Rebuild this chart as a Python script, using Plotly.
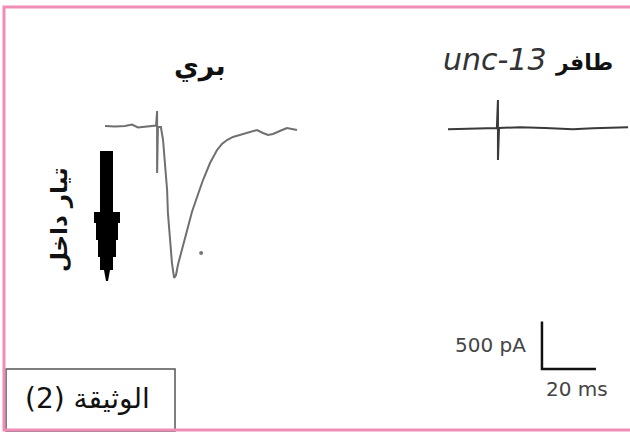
import plotly.graph_objects as go

W, H = 630, 432

# Wild-type evoked current (time in ms, current in pA)
wt_time = [0, 3.7, 7.4, 10.0, 12.2, 14.8, 17.8, 18.9, 19.3, 19.3, 19.6, 20.7, 21.5, 22.2,
           23.0, 23.3, 24.1, 24.8, 25.6, 26.3, 27.0, 28.5, 30.4, 32.2, 34.1, 36.3, 38.9,
           41.5, 43.3, 45.2, 47.4, 50.0, 51.9, 53.7, 56.3, 58.5, 60.4, 62.2, 63.7, 65.6,
           67.4, 69.3, 71.1]
wt_current = [10, 5, 10, 26, -5, 5, 16, 16, 168, -484, 0, 0, -137, -379,
              -663, -905, -1189, -1432, -1589, -1558, -1453, -1295, -1084, -895, -737, -558, -379,
              -242, -179, -137, -105, -84, -68, -53, -32, -63, -84, -74, -53, -32,
              -11, -21, -32]

# unc-13 mutant current (time in ms, current in pA)
mut_time = [0, 8.1, 14.4, 18.1, 18.5, 18.5, 18.9, 26.7, 35.9, 46.3, 53.7, 66.7]
mut_current = [-24, -16, -7, -10, 284, -347, -10, -3, -10, -24, -14, -3]

# stray dot in the wild-type panel
dot_time = [35.6]
dot_current = [-1326]

# scale bar (20 ms x 500 pA)
bar_time = [34.8, 34.8, 54.8]
bar_current = [-2047, -2547, -2547]

title_wt = "بري"
title_mut_gene = "unc-13"
title_mut = "طافر"
arrow_label = "تيار داخل"
bar_y_label = "500 pA"
bar_x_label = "20 ms"
doc_label = "(2) الوثيقة"

PX_PER_MS = 2.7
PX_PER_PA = 0.095


def px(x):
    return x / W


def py(y):
    return 1 - y / H


fig = go.Figure()
fig.add_trace(go.Scatter(x=wt_time, y=wt_current, mode="lines",
                         line=dict(color="#6f6f6f", width=2), xaxis="x", yaxis="y"))
fig.add_trace(go.Scatter(x=dot_time, y=dot_current, mode="markers",
                         marker=dict(color="#777777", size=4), xaxis="x", yaxis="y"))
fig.add_trace(go.Scatter(x=mut_time, y=mut_current, mode="lines",
                         line=dict(color="#3a3a3a", width=2), xaxis="x2", yaxis="y"))
fig.add_trace(go.Scatter(x=bar_time, y=bar_current, mode="lines",
                         line=dict(color="#111111", width=2.5), xaxis="x2", yaxis="y"))

ax_common = dict(visible=False, fixedrange=True)
fig.update_layout(
    width=W, height=H,
    margin=dict(l=0, r=0, t=0, b=0),
    paper_bgcolor="white", plot_bgcolor="white",
    showlegend=False,
    xaxis=dict(domain=[0, 0.5], range=[-105 / PX_PER_MS, 210 / PX_PER_MS], anchor="y", **ax_common),
    xaxis2=dict(domain=[0.5, 1], range=[-133 / PX_PER_MS, 182 / PX_PER_MS], anchor="y", **ax_common),
    yaxis=dict(domain=[0, 1], range=[-305 / PX_PER_PA, 127 / PX_PER_PA], **ax_common),
)

ar = "DejaVu Sans"
annots = [
    dict(x=px(200), y=py(66), text="<b>%s</b>" % title_wt,
         font=dict(family=ar, size=27, color="#111")),
    dict(x=px(528), y=py(59),
         text="<i>%s</i> <b><span style='font-size:22px;color:#111'>%s</span></b>"
              % (title_mut_gene, title_mut),
         font=dict(family=ar, size=30, color="#333")),
    dict(x=px(59), y=py(220), text="<b>%s</b>" % arrow_label, textangle=-90,
         font=dict(family=ar, size=23, color="#111")),
    dict(x=px(528), y=py(345), text=bar_y_label, xanchor="right",
         font=dict(family=ar, size=20, color="#444")),
    dict(x=px(577), y=py(389), text=bar_x_label,
         font=dict(family=ar, size=20, color="#444")),
    dict(x=px(87), y=py(398), text=doc_label,
         font=dict(family=ar, size=28, color="#111")),
]
for a in annots:
    a.setdefault("xanchor", "center")
    a.update(xref="paper", yref="paper", showarrow=False, yanchor="middle")
    fig.add_annotation(**a)

# thick stepped arrow (inward current)
arrow_pts = [(100, 151), (113, 151), (113, 212), (120, 212), (120, 223), (118, 223),
             (118, 240), (116, 240), (116, 257), (113, 257), (113, 270), (110, 270),
             (108, 281), (106, 281), (104, 270), (100, 270), (100, 257), (98, 257),
             (98, 240), (96, 240), (96, 223), (94, 223), (94, 212), (100, 212)]
path = "M " + " L ".join("%.5f,%.5f" % (px(x), py(y)) for x, y in arrow_pts) + " Z"
fig.add_shape(type="path", path=path, xref="paper", yref="paper",
              fillcolor="black", line=dict(color="black", width=0))

# box around document label
fig.add_shape(type="rect", xref="paper", yref="paper",
              x0=px(6), x1=px(175), y0=py(431), y1=py(369),
              line=dict(color="#555", width=1.5))
# pink frame
fig.add_shape(type="rect", xref="paper", yref="paper",
              x0=px(4), x1=px(640), y0=py(430), y1=py(7),
              line=dict(color="#f08db6", width=3))

fig.write_html("out.html", config={"displayModeBar": False},
               post_script="document.body.style.margin='0';")
